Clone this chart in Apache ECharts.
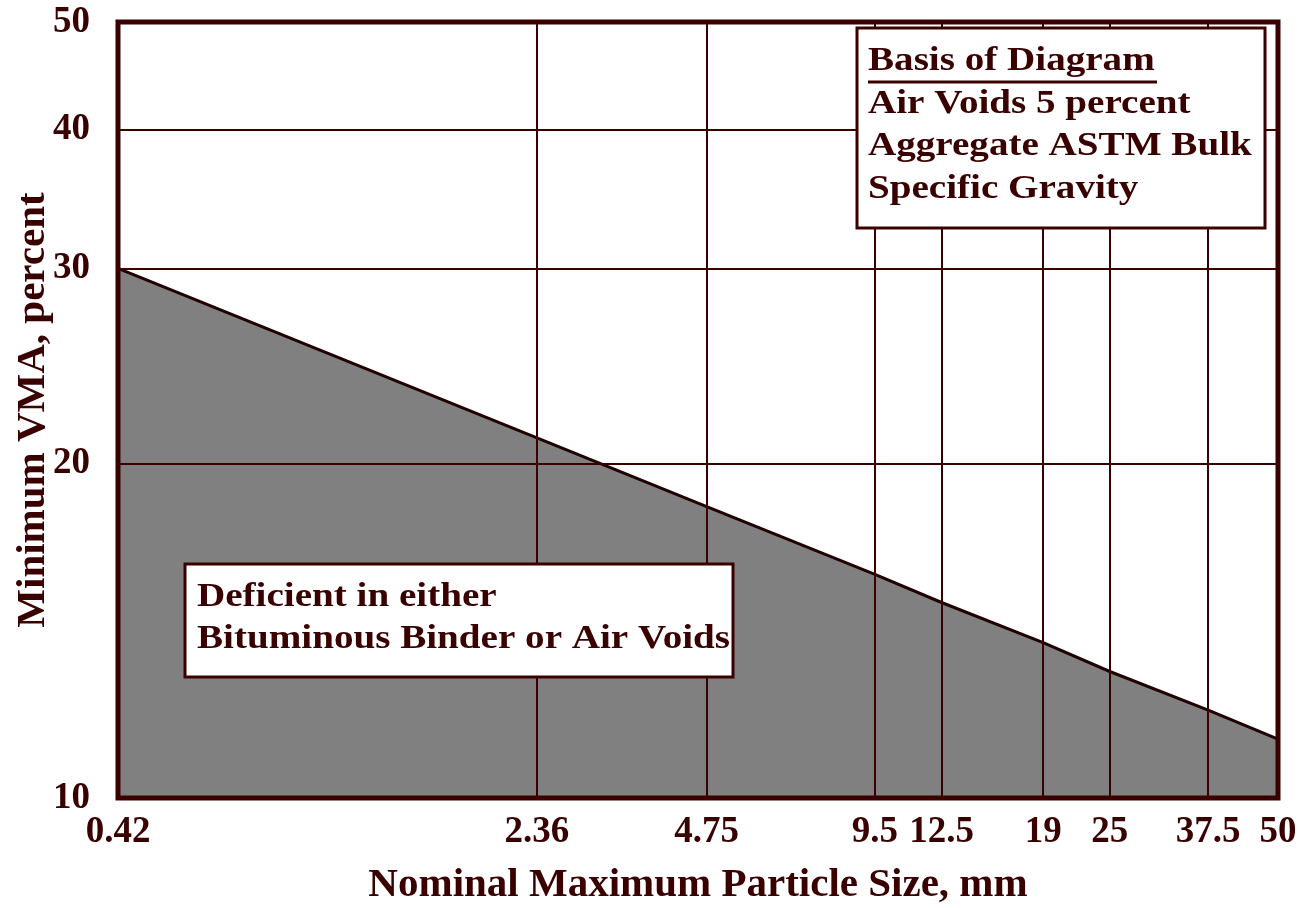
<!DOCTYPE html>
<html>
<head>
<meta charset="utf-8">
<script src="https://cdn.jsdelivr.net/npm/echarts@6/dist/echarts.min.js"></script>
<style>
html, body { margin: 0; padding: 0; background: #fff; }
#chart { width: 1305px; height: 908px; }
</style>
</head>
<body>
<div id="chart"></div>
<script>
// nominal max particle size (mm) and min VMA (%)
const sizes = [0.42, 2.36, 4.75, 9.5, 12.5, 19, 25, 37.5, 50]
const minVma = [30, 21.1, 18.3, 15.9, 15.0, 13.8, 13.0, 12.0, 11.3]
const yTicks = [10, 20, 30, 40, 50]
const basisTitle = 'Basis of Diagram'
const basisLines = ['Air Voids 5 percent', 'Aggregate ASTM Bulk', 'Specific Gravity']
const deficientLines = ['Deficient in either', 'Bituminous Binder or Air Voids']

const ink = '#3a0000'
const serif = '"Liberation Serif", "Times New Roman", serif'

const chart = echarts.init(document.getElementById('chart'))

// the old bitmap font is a bit wider than Times, so stretch it a little
const textEl = (str, x, y) => ({
  type: 'text',
  x: x,
  y: y,
  z: 102,
  scaleX: 1.15,
  style: { text: str, font: 'bold 34px ' + serif, fill: ink, verticalAlign: 'middle' }
})

const boxEl = (x, y, w, h) => ({
  type: 'rect',
  z: 100,
  shape: { x: x, y: y, width: w, height: h },
  style: { fill: '#fff', stroke: ink, lineWidth: 3 }
})

chart.setOption({
  animation: false,
  grid: {
    left: 118, right: 27, top: 22, bottom: 110,
    outerBoundsMode: 'none',
    containLabel: false,
    show: true,
    z: 10,
    backgroundColor: 'transparent',
    borderColor: ink,
    borderWidth: 5
  },
  xAxis: {
    type: 'log',
    logBase: 10,
    min: 0.42,
    max: 50,
    z: 3,
    name: 'Nominal Maximum Particle Size, mm',
    nameLocation: 'middle',
    nameGap: 67,
    nameMoveOverlap: false,
    nameTextStyle: { fontFamily: serif, fontWeight: 'bold', fontSize: 41, color: ink },
    axisLine: { show: false },
    axisTick: { show: false, customValues: sizes },
    splitLine: { show: true, lineStyle: { color: ink, width: 2 } },
    axisLabel: {
      customValues: sizes,
      margin: 16,
      fontFamily: serif, fontWeight: 'bold', fontSize: 37, color: ink,
      formatter: v => String(v)
    }
  },
  yAxis: {
    type: 'log',
    logBase: 10,
    min: 10,
    max: 50,
    z: 3,
    name: 'Minimum VMA, percent',
    nameLocation: 'middle',
    nameGap: 64,
    nameMoveOverlap: false,
    nameTextStyle: { fontFamily: serif, fontWeight: 'bold', fontSize: 41, color: ink },
    axisLine: { show: false },
    axisTick: { show: false, customValues: yTicks },
    splitLine: { show: true, lineStyle: { color: ink, width: 2 } },
    axisLabel: {
      customValues: yTicks,
      margin: 28,
      fontFamily: serif, fontWeight: 'bold', fontSize: 37, color: ink,
      formatter: v => String(v)
    }
  },
  series: [{
    type: 'line',
    data: sizes.map((s, i) => [s, minVma[i]]),
    symbol: 'none',
    z: 2,
    lineStyle: { color: '#200000', width: 3 },
    areaStyle: { color: '#808080', opacity: 1, origin: 'start' }
  }],
  graphic: [
    boxEl(857, 28, 408, 200),
    textEl(basisTitle, 868, 61),
    {
      type: 'line',
      z: 102,
      shape: { x1: 868, y1: 82, x2: 1157, y2: 82 },
      style: { stroke: ink, lineWidth: 3 }
    },
    ...basisLines.map((t, i) => textEl(t, 868, 104 + i * 42.5)),
    boxEl(185, 564, 548, 113),
    ...deficientLines.map((t, i) => textEl(t, 197, 597 + i * 42))
  ]
})
</script>
</body>
</html>
